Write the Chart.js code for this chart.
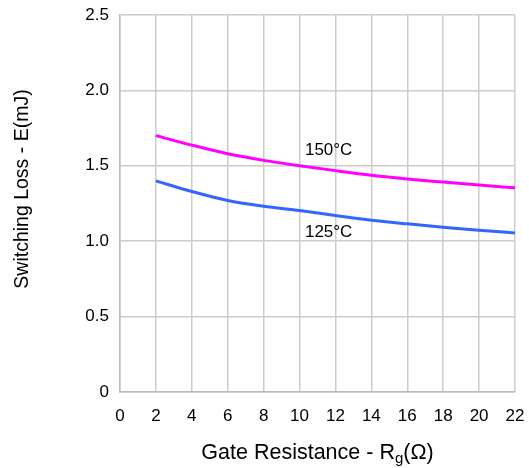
<!DOCTYPE html>
<html><head><meta charset="utf-8">
<script src="https://cdn.jsdelivr.net/npm/chart.js@4"></script>
<style>html,body{margin:0;padding:0;background:#fff}#wrap{width:529px;height:468px}</style>
</head><body><div id="wrap"><canvas id="c" width="529" height="468"></canvas></div>
<script>
const gateResistance = [2, 4, 6, 8, 10, 12, 14, 16, 18, 20, 22];
const loss150 = [1.70, 1.637, 1.58, 1.536, 1.50, 1.468, 1.438, 1.413, 1.392, 1.372, 1.354];
const loss125 = [1.40, 1.33, 1.27, 1.232, 1.203, 1.17, 1.139, 1.115, 1.093, 1.072, 1.055];
const xTicks = [0, 2, 4, 6, 8, 10, 12, 14, 16, 18, 20, 22];
const yTicks = [0, 0.5, 1.0, 1.5, 2.0, 2.5];
const curveLabels = [{text: '150°C', x: 10.3, y: 1.60}, {text: '125°C', x: 10.3, y: 1.057}];
const yTitle = 'Switching Loss - E(mJ)';

const FONT = "'Liberation Sans', Arial, sans-serif";
const mk = (arr) => gateResistance.map((x, i) => ({x, y: arr[i]}));

const labelPlugin = {
  id: 'labels',
  afterDatasetsDraw(chart) {
    const {ctx, scales: {x, y}, chartArea} = chart;
    ctx.save();
    ctx.fillStyle = '#000';
    ctx.font = "17px " + FONT;
    ctx.textBaseline = 'middle';
    ctx.textAlign = 'left';
    curveLabels.forEach(l => ctx.fillText(l.text, x.getPixelForValue(l.x), y.getPixelForValue(l.y)));
    // x axis title with subscript
    const cx = (chartArea.left + chartArea.right) / 2;
    const ty = 453;
    const big = "21.5px " + FONT, small = "15px " + FONT;
    ctx.font = big; const w1 = ctx.measureText('Gate Resistance - R').width; const w3 = ctx.measureText('(Ω)').width;
    ctx.font = small; const w2 = ctx.measureText('g').width;
    let sx = cx - (w1 + w2 + w3) / 2;
    ctx.font = big; ctx.fillText('Gate Resistance - R', sx, ty); sx += w1;
    ctx.font = small; ctx.fillText('g', sx, ty + 6); sx += w2;
    ctx.font = big; ctx.fillText('(Ω)', sx, ty);
    // y axis title
    ctx.translate(23, 189);
    ctx.rotate(-Math.PI / 2);
    ctx.textAlign = 'center';
    ctx.font = "19.5px " + FONT;
    ctx.fillText(yTitle, 0, 0);
    ctx.restore();
  }
};

new Chart(document.getElementById('c'), {
  type: 'line',
  data: {
    datasets: [
      {label: '150°C', data: mk(loss150), borderColor: '#ff00ff', borderWidth: 3, pointRadius: 0, cubicInterpolationMode: 'monotone', fill: false},
      {label: '125°C', data: mk(loss125), borderColor: '#3366ff', borderWidth: 3, pointRadius: 0, cubicInterpolationMode: 'monotone', fill: false}
    ]
  },
  options: {
    responsive: false,
    animation: false,
    layout: {padding: {top: 15, right: 14, left: 0, bottom: 0}},
    plugins: {legend: {display: false}, tooltip: {enabled: false}},
    scales: {
      x: {
        type: 'linear', min: 0, max: 22,
        afterBuildTicks: (s) => { s.ticks = xTicks.map(v => ({value: v})); },
        afterFit: (s) => { s.height = 76; s.paddingLeft = 0; s.paddingRight = 0; },
        grid: {color: '#cccccc', lineWidth: 1.5, drawTicks: false},
        border: {color: '#bbbbbb', width: 1.5},
        ticks: {color: '#000', font: {family: FONT, size: 17}, padding: 14, maxRotation: 0, autoSkip: false},
        title: {display: false}
      },
      y: {
        min: 0, max: 2.5,
        afterBuildTicks: (s) => { s.ticks = yTicks.map(v => ({value: v})); },
        afterFit: (s) => { s.width = 120; s.paddingTop = 0; s.paddingBottom = 0; },
        grid: {color: '#cccccc', lineWidth: 1.5, drawTicks: false},
        border: {color: '#bbbbbb', width: 1.5},
        ticks: {color: '#000', font: {family: FONT, size: 17}, padding: 11,
          callback: (v) => v === 0 ? '0' : v.toFixed(1)},
        title: {display: false}
      }
    }
  },
  plugins: [labelPlugin]
});
</script>
</body></html>
